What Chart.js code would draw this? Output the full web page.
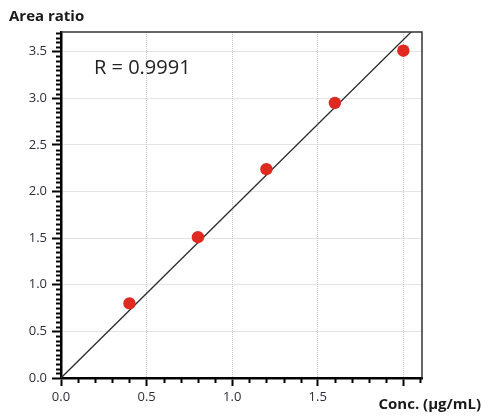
<!DOCTYPE html>
<html>
<head>
<meta charset="utf-8">
<script src="https://cdn.jsdelivr.net/npm/chart.js@4"></script>
<style>
  html, body { margin: 0; padding: 0; background: #ffffff; }
  #wrap { width: 481px; height: 417px; position: relative; }
</style>
</head>
<body>
<div id="wrap"><canvas id="c" width="481" height="417"></canvas></div>
<script>
// ---- data ----
const concentrations = [0.4, 0.8, 1.2, 1.6, 2.0];
const areaRatios = [0.80, 1.51, 2.24, 2.95, 3.51];
const fitLineX = [0, 2.1];
const fitLineY = [0, 3.81];
const xTickLabels = ['0.0', '0.5', '1.0', '1.5', ''];
const yTickLabels = ['0.0', '0.5', '1.0', '1.5', '2.0', '2.5', '3.0', '3.5'];
const yAxisTitle = 'Area ratio';
const xAxisTitle = 'Conc. (\u00b5g/mL)';
const annotationText = 'R = 0.9991';

const FONT = "'Open Sans', 'DejaVu Sans', sans-serif";
const TICK_COLOR = '#2e2e3a';

const extrasPlugin = {
  id: 'extras',
  beforeDatasetsDraw(chart) {
    const { ctx, chartArea: a, scales } = chart;
    ctx.save();
    // minor ticks
    ctx.strokeStyle = '#000';
    ctx.lineWidth = 2;
    const xs = scales.x, ys = scales.y;
    for (let i = 1; i * 0.1 <= xs.max + 1e-9; i++) {
      const v = i * 0.1;
      if (Math.abs(v / 0.5 - Math.round(v / 0.5)) < 1e-6) continue;
      const px = Math.round(xs.getPixelForValue(v)) + 0.5;
      ctx.beginPath(); ctx.moveTo(px, a.bottom); ctx.lineTo(px, a.bottom + 5); ctx.stroke();
    }
    for (let i = 1; i * 0.05 <= ys.max + 1e-9; i++) {
      const v = i * 0.05;
      if (Math.abs(v / 0.5 - Math.round(v / 0.5)) < 1e-6) continue;
      const py = Math.round(ys.getPixelForValue(v)) + 0.5;
      ctx.beginPath(); ctx.moveTo(a.left - 5, py); ctx.lineTo(a.left, py); ctx.stroke();
    }
    ctx.restore();
  },
  afterDatasetsDraw(chart) {
    const { ctx, chartArea: a } = chart;
    ctx.save();
    // top and right frame
    ctx.strokeStyle = '#333';
    ctx.lineWidth = 1.5;
    ctx.beginPath();
    ctx.moveTo(a.left, a.top);
    ctx.lineTo(a.right, a.top);
    ctx.lineTo(a.right, a.bottom);
    ctx.stroke();
    // texts
    ctx.fillStyle = '#1a1a1a';
    ctx.textBaseline = 'alphabetic';
    ctx.textAlign = 'left';
    ctx.font = 'bold 15px ' + FONT;
    ctx.fillText(yAxisTitle, 9, 21);
    ctx.textAlign = 'right';
    ctx.fillText(xAxisTitle, 481, 409);
    ctx.textAlign = 'left';
    ctx.font = '20px ' + FONT;
    ctx.fillStyle = '#222';
    ctx.fillText(annotationText, 94, 74);
    ctx.restore();
  }
};

new Chart(document.getElementById('c'), {
  type: 'scatter',
  data: {
    datasets: [
      {
        label: 'Samples',
        data: concentrations.map((x, i) => ({ x, y: areaRatios[i] })),
        backgroundColor: '#e0291f',
        borderColor: '#e0291f',
        borderWidth: 0,
        pointRadius: 6.2,
        pointHoverRadius: 6.2,
        showLine: false
      },
      {
        label: 'Fit',
        type: 'line',
        data: fitLineX.map((x, i) => ({ x, y: fitLineY[i] })),
        borderColor: '#2a2a2a',
        borderWidth: 1.3,
        pointRadius: 0,
        fill: false,
        tension: 0
      }
    ]
  },
  options: {
    responsive: false,
    animation: false,
    devicePixelRatio: 1,
    layout: { padding: { left: 0, top: 32, right: 59, bottom: 0 } },
    plugins: { legend: { display: false }, tooltip: { enabled: false } },
    scales: {
      x: {
        type: 'linear',
        min: 0,
        max: 2.109,
        afterFit(s) { s.height = 39; },
        ticks: {
          stepSize: 0.5,
          includeBounds: false,
          padding: 3,
          color: TICK_COLOR,
          font: { family: FONT, size: 13 },
          maxRotation: 0,
          autoSkip: false,
          callback: (v) => xTickLabels[Math.round(v / 0.5)]
        },
        grid: {
          color: (c) => (c.tick && c.tick.value === 0) ? 'rgba(0,0,0,0)' : '#c8c8c8',
          lineWidth: 1,
          drawTicks: true,
          tickLength: 8,
          tickColor: '#000',
          tickWidth: 2
        },
        border: { display: true, color: '#000', width: 2.5, dash: [1, 1] }
      },
      y: {
        type: 'linear',
        min: 0,
        max: 3.711,
        afterFit(s) { s.width = 61; },
        ticks: {
          stepSize: 0.5,
          includeBounds: false,
          padding: 5,
          color: TICK_COLOR,
          font: { family: FONT, size: 13 },
          autoSkip: false,
          callback: (v) => yTickLabels[Math.round(v / 0.5)]
        },
        grid: {
          color: (c) => (c.tick && c.tick.value === 0) ? 'rgba(0,0,0,0)' : '#c8c8c8',
          lineWidth: 1,
          drawTicks: true,
          tickLength: 9,
          tickColor: '#000',
          tickWidth: 2
        },
        border: { display: true, color: '#000', width: 2.5, dash: [1, 1] }
      }
    }
  },
  plugins: [extrasPlugin]
});
</script>
</body>
</html>
